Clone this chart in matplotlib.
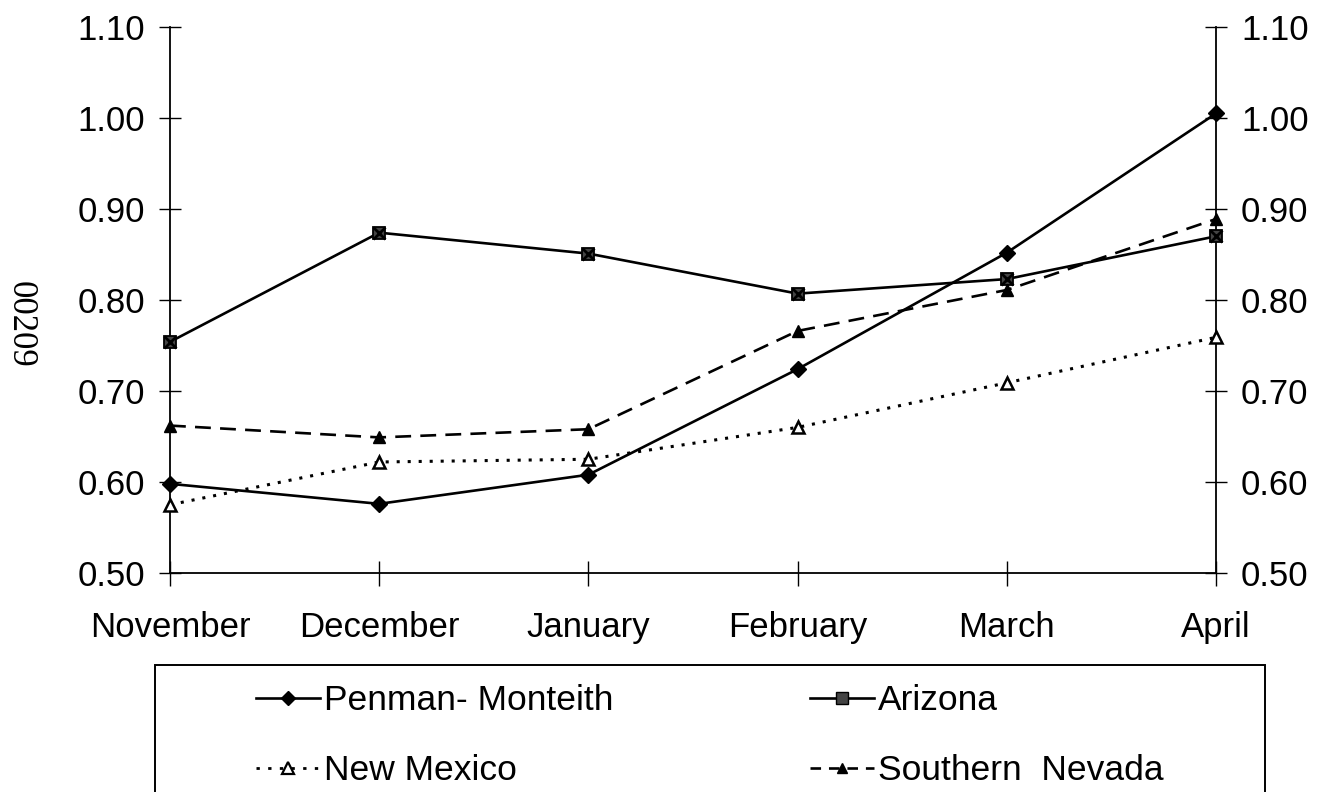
import matplotlib
matplotlib.use("Agg")
import matplotlib.pyplot as plt
from matplotlib.lines import Line2D
from matplotlib.patches import Rectangle

plt.rcParams['font.family'] = ['Liberation Sans', 'DejaVu Sans']

months = ["November", "December", "January", "February", "March", "April"]
penman_monteith = [0.598, 0.576, 0.608, 0.724, 0.852, 1.005]
arizona = [0.754, 0.874, 0.851, 0.807, 0.823, 0.870]
new_mexico = [0.575, 0.622, 0.625, 0.660, 0.709, 0.759]
southern_nevada = [0.662, 0.649, 0.658, 0.766, 0.811, 0.889]
y_ticks = [0.50, 0.60, 0.70, 0.80, 0.90, 1.00, 1.10]

W, H = 1320, 792
fig = plt.figure(figsize=(W / 100, H / 100), dpi=100)
ax = fig.add_axes([170 / W, 1 - 573 / H, (1216 - 170) / W, (573 - 27) / H])

x = list(range(len(months)))
lw = 1.9
ax.plot(x, penman_monteith, color="black", lw=lw, marker="D", ms=8,
        mfc="black", mec="black", zorder=4)
ax.plot(x, arizona, color="black", lw=lw, marker="s", ms=9,
        mfc="#444444", mec="black", mew=1.3, zorder=4)
ax.plot(x, arizona, ls="none", marker="x", ms=9, mec="black", mew=2.0, zorder=5)
ax.plot(x, new_mexico, color="black", lw=2.2, ls=(0, (1.0, 2.6)), marker="^", ms=9,
        mfc="white", mec="black", mew=1.8, zorder=4)
ax.plot(x, southern_nevada, color="black", lw=lw, ls=(0, (6, 3.5)), marker="^", ms=9,
        mfc="black", mec="black", zorder=4)

ax.set_xlim(0, len(months) - 1)
ax.set_ylim(0.50, 1.10)
ax.set_xticks(x)
ax.set_xticklabels(months)
ax.set_yticks(y_ticks)
ax.set_yticklabels([f"{v:.2f}" for v in y_ticks])

ax.spines["top"].set_visible(False)
for s in ("left", "right", "bottom"):
    ax.spines[s].set_linewidth(1.3)
    ax.spines[s].set_color("black")

ax.tick_params(axis="y", which="both", direction="inout", length=16, width=1.0,
               left=True, right=True, labelleft=True, labelright=True,
               labelsize=25, pad=10)
ax.tick_params(axis="x", direction="inout", length=18, width=1.0,
               labelsize=25, pad=37)
for lab in ax.get_xticklabels():
    lab.set_verticalalignment("baseline")
for ln in ax.get_lines():
    ln.set_clip_on(False)

# Legend entries
h_pm = Line2D([], [], color="black", lw=lw, marker="D", ms=7, mfc="black")
h_az = Line2D([], [], color="black", lw=lw, marker="s", ms=8, mfc="#444444", mec="black")
h_nm = Line2D([], [], color="black", lw=2.0, ls=(0, (1.2, 3.0)), marker="^", ms=8,
              mfc="white", mec="black", mew=1.6)
h_sn = Line2D([], [], color="black", lw=lw, ls=(0, (4, 3)), marker="^", ms=7, mfc="black")

leg = fig.legend([h_pm, h_nm, h_az, h_sn],
                 ["Penman- Monteith", "New Mexico", "Arizona", "Southern  Nevada"],
                 ncol=2, frameon=False, fontsize=25.5, loc="upper left",
                 bbox_to_anchor=(256 / W, 1 - 684 / H),
                 handlelength=1.8, handletextpad=0.12, columnspacing=5.55,
                 labelspacing=1.05, borderpad=0, borderaxespad=0)

fig.patches.append(Rectangle((155 / W, -0.1), (1265 - 155) / W, (792 - 665) / H + 0.1,
                             transform=fig.transFigure, fill=False,
                             edgecolor="black", lw=1.4))

fig.text(20 / W, 1 - 324 / H, "00209", rotation=-90, ha="center", va="center",
         fontsize=25, family="Liberation Serif", color="black")

fig.savefig("out.png", dpi=100, facecolor="white")
